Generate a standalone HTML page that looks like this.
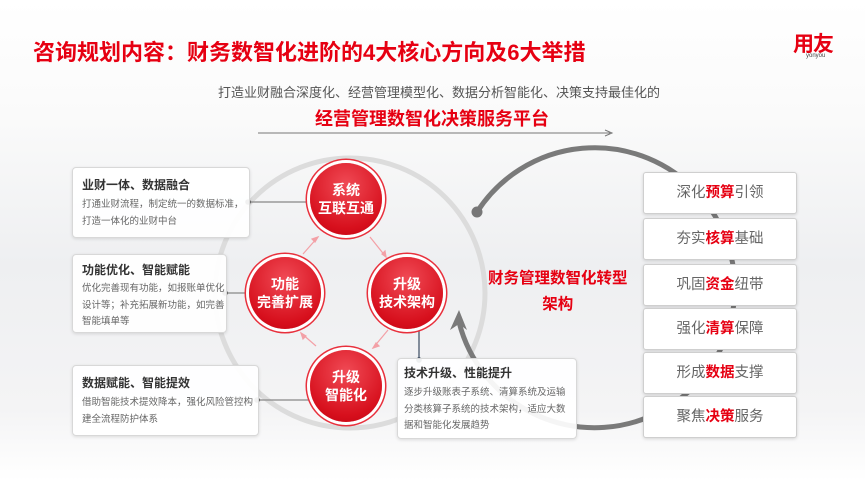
<!DOCTYPE html>
<html><head><meta charset="utf-8"><style>
body{margin:0;width:865px;height:481px;overflow:hidden;font-family:"Liberation Sans","Noto Sans CJK SC",sans-serif;background:linear-gradient(180deg,#fff 0%,#fafafa 25%,#eeeff1 55%,#f4f4f5 85%,#fff 100%);position:relative}
.a{position:absolute;white-space:nowrap}
.box{position:absolute;background:rgba(255,255,255,.92);border:1px solid #d8d8d8;border-radius:4px;box-shadow:0 1px 3px rgba(0,0,0,.12)}
.bt{font-weight:bold;font-size:12px;color:#333;position:absolute;left:9px}
.bd{font-size:9.5px;color:#666;position:absolute;left:9px;line-height:16.5px}
.rb{position:absolute;left:643px;width:152px;height:40px;background:#fff;border:1px solid #cfcfcf;border-radius:3px;box-shadow:0 1px 3px rgba(0,0,0,.15);text-align:center;line-height:40px;font-size:14.5px;color:#666}
.rb b{color:#e60012}
.c{position:absolute;border-radius:50%;background:radial-gradient(circle at 50% 30%,#f04a55,#d7101d 70%,#c00010);color:#fff;font-weight:bold;text-align:center;display:flex;align-items:center;justify-content:center;font-size:14px;line-height:18px;box-shadow:0 0 0 3px #fff,0 0 0 4.5px #e8303c}
</style></head><body>
<div class="a" style="left:33px;top:35px;font-size:22px;font-weight:bold;color:#e60012">咨询规划内容：财务数智化进阶的4大核心方向及6大举措</div>
<div class="a" style="left:793px;top:28px;font-size:21px;font-weight:bold;color:#e60012;letter-spacing:-1px">用友</div>
<div class="a" style="left:806px;top:53px;font-size:6px;color:#444">yonyou</div>
<div class="a" style="left:218px;top:82px;font-size:13px;color:#555">打造业财融合深度化、经营管理模型化、数据分析智能化、决策支持最佳化的</div>
<div class="a" style="left:315px;top:105px;font-size:18px;font-weight:bold;color:#e60012">经营管理数智化决策服务平台</div>
<svg class="a" style="left:0;top:0" width="865" height="481">
<line x1="258" y1="133" x2="610" y2="133" stroke="#777" stroke-width="1"/>
<path d="M605 130 L612 133 L605 136" fill="none" stroke="#777"/>
<circle cx="350" cy="293" r="135" fill="none" stroke="#dcdcdc" stroke-width="5"/>
<path d="M477 212 A140 140 0 1 1 459 322" fill="none" stroke="#7a7a7a" stroke-width="5"/>
<circle cx="477" cy="212" r="5.5" fill="#777"/>
<path d="M450 330 L459 310 L467 330 L459 324 Z" fill="#7a7a7a"/>
<g stroke="#f3a0a6" stroke-width="1.2" fill="#f3a0a6">
<line x1="303" y1="254" x2="318" y2="237"/><path d="M318 237 l-6 2 l3 3z"/>
<line x1="370" y1="237" x2="386" y2="257"/><path d="M386 257 l-1-6 l-3 3z"/>
<line x1="388" y1="330" x2="373" y2="348"/><path d="M373 348 l6-2 l-3-3z"/>
<line x1="316" y1="346" x2="301" y2="333"/><path d="M301 333 l2 6 l3-3z"/>
</g>
<g stroke="#888" stroke-width="1.2">
<line x1="248" y1="202" x2="312" y2="202"/><line x1="225" y1="293" x2="250" y2="293"/><line x1="257" y1="400" x2="318" y2="400"/>
<line x1="419" y1="330" x2="419" y2="360" stroke="#3a4a60"/>
</g>
<circle cx="248" cy="202" r="2.8" fill="#555"/><circle cx="225" cy="293" r="2.8" fill="#555"/><circle cx="257" cy="400" r="2.8" fill="#555"/><circle cx="419" cy="360" r="2.8" fill="#2e3d55"/>
</svg>
<div class="c" style="left:310px;top:163px;width:72px;height:72px">系统<br>互联互通</div>
<div class="c" style="left:249px;top:257px;width:72px;height:72px">功能<br>完善扩展</div>
<div class="c" style="left:371px;top:257px;width:72px;height:72px">升级<br>技术架构</div>
<div class="c" style="left:310px;top:350px;width:72px;height:72px">升级<br>智能化</div>
<div class="box" style="left:72px;top:167px;width:176px;height:69px"><div class="bt" style="top:8px">业财一体、数据融合</div><div class="bd" style="top:29px">打通业财流程，制定统一的数据标准，<br>打造一体化的业财中台</div></div>
<div class="box" style="left:72px;top:254px;width:153px;height:77px"><div class="bt" style="top:6px">功能优化、智能赋能</div><div class="bd" style="top:26px">优化完善现有功能，如报账单优化<br>设计等；补充拓展新功能，如完善<br>智能填单等</div></div>
<div class="box" style="left:72px;top:365px;width:185px;height:69px"><div class="bt" style="top:8px">数据赋能、智能提效</div><div class="bd" style="top:29px">借助智能技术提效降本，强化风险管控构<br>建全流程防护体系</div></div>
<div class="box" style="left:397px;top:358px;width:178px;height:79px"><div class="bt" style="left:6px;top:5px">技术升级、性能提升</div><div class="bd" style="left:6px;top:26px">逐步升级账表子系统、清算系统及运输<br>分类核算子系统的技术架构，适应大数<br>据和智能化发展趋势</div></div>
<div class="a" style="left:488px;top:266px;font-size:15.5px;font-weight:bold;color:#e60012;text-align:center;line-height:26px">财务管理数智化转型<br>架构</div>
<div class="rb" style="top:172px">深化<b>预算</b>引领</div>
<div class="rb" style="top:218px">夯实<b>核算</b>基础</div>
<div class="rb" style="top:264px">巩固<b>资金</b>纽带</div>
<div class="rb" style="top:308px">强化<b>清算</b>保障</div>
<div class="rb" style="top:352px">形成<b>数据</b>支撑</div>
<div class="rb" style="top:396px">聚焦<b>决策</b>服务</div>
</body></html>
